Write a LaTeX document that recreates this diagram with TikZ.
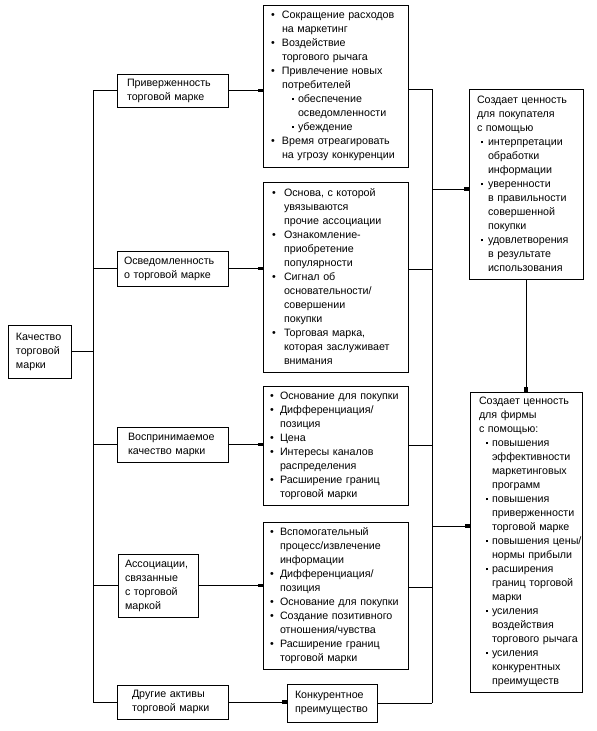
\documentclass[tikz,border=0pt]{standalone}
\usepackage{fontspec}
\setmainfont{Liberation Sans}
\usetikzlibrary{arrows.meta}
\newcommand\fs{\fontsize{10.7}{14}\selectfont}
\newcommand\BI[3]{\mbox{\makebox[#2pt][l]{\hspace*{#1pt}\textbullet}#3}}
\newcommand\SI[3]{\mbox{\makebox[#2pt][l]{\hspace*{#1pt}\raisebox{2.4pt}{\rule{2pt}{2pt}}}#3}}
\newcommand\CI[2]{\mbox{\hspace*{#1pt}#2}}
\begin{document}
\begin{tikzpicture}[x=1pt,y=-1pt,line width=1pt,
  box/.style={draw, line width=1pt, inner ysep=0pt, align=left, font=\fs},
  lbox/.style={box, inner xsep=0pt, text width=#1, minimum width=#1},
  arr/.style={-{Square[length=4.5pt,width=3.5pt]}}]
\useasboundingbox (0,0) rectangle (597,731);
% left column
\node[box, minimum width=63pt, minimum height=53pt, inner xsep=8pt, text width=47pt] (q) at (39.5,351.5)
  {\mbox{Качество}\\\mbox{торговой}\\\mbox{марки}};
\node[box, minimum width=111pt, minimum height=33pt, inner xsep=10pt, text width=91pt] (b1) at (172.5,90.5)
  {\mbox{Приверженность}\\\mbox{торговой марке}};
\node[box, minimum width=111pt, minimum height=35pt, inner xsep=7pt, text width=97pt] (b2) at (172.5,268.5)
  {\mbox{Осведомленность}\\\mbox{о торговой марке}};
\node[box, minimum width=111pt, minimum height=35pt, inner xsep=11pt, text width=89pt] (b3) at (172.5,444.5)
  {\mbox{Воспринимаемое}\\\mbox{качество марки}};
\node[box, minimum width=80pt, minimum height=63pt, inner xsep=7pt, text width=66pt] (b4) at (158,585.5)
  {\mbox{Ассоциации,}\\\mbox{связанные}\\\mbox{с торговой}\\\mbox{маркой}};
\node[box, minimum width=111pt, minimum height=34pt, inner xsep=15pt, text width=81pt] (b5) at (172.5,702)
  {\mbox{Другие активы}\\\mbox{торговой марки}};
\node[box, minimum width=90pt, minimum height=38pt, inner xsep=8pt, text width=74pt] (k) at (332,703)
  {\mbox{Конкурентное}\\\mbox{преимущество}};
% lists
\node[lbox=145pt, minimum height=162pt] (l1) at (335.5,86) {%
\BI{8.1}{19}{Сокращение расходов}\\
\CI{19}{на маркетинг}\\
\BI{8.1}{19}{Воздействие}\\
\CI{19}{торгового рычага}\\
\BI{8.1}{19}{Привлечение новых}\\
\CI{19}{потребителей}\\
\SI{29}{35}{обеспечение}\\
\CI{35}{осведомленности}\\
\SI{29}{35}{убеждение}\\
\BI{8.1}{19}{Время отреагировать}\\
\CI{19}{на угрозу конкуренции}};
\node[lbox=145pt, minimum height=190pt] (l2) at (335.5,277) {%
\BI{9.1}{21}{Основа, с которой}\\
\CI{21}{увязываются}\\
\CI{21}{прочие ассоциации}\\
\BI{9.1}{21}{Ознакомление-}\\
\CI{21}{приобретение}\\
\CI{21}{популярности}\\
\BI{9.1}{21}{Сигнал об}\\
\CI{21}{основательности/}\\
\CI{21}{совершении}\\
\CI{21}{покупки}\\
\BI{9.1}{21}{Торговая марка,}\\
\CI{21}{которая заслуживает}\\
\CI{21}{внимания}};
\node[lbox=145pt, minimum height=119pt] (l3) at (335.5,445.5) {%
\BI{7.1}{17}{Основание для покупки}\\
\BI{7.1}{17}{Дифференциация/}\\
\CI{17}{позиция}\\
\BI{7.1}{17}{Цена}\\
\BI{7.1}{17}{Интересы каналов}\\
\CI{17}{распределения}\\
\BI{7.1}{17}{Расширение границ}\\
\CI{17}{торговой марки}};
\node[lbox=145pt, minimum height=147pt] (l4) at (335.5,595.5) {%
\BI{7.1}{17}{Вспомогательный}\\
\CI{17}{процесс/извлечение}\\
\CI{17}{информации}\\
\BI{7.1}{17}{Дифференциация/}\\
\CI{17}{позиция}\\
\BI{7.1}{17}{Основание для покупки}\\
\BI{7.1}{17}{Создание позитивного}\\
\CI{17}{отношения/чувства}\\
\BI{7.1}{17}{Расширение границ}\\
\CI{17}{торговой марки}};
% right column
\node[lbox=114pt, minimum height=190pt] (buy) at (526,184) {%
\CI{8}{Создает ценность}\\
\CI{8}{для покупателя}\\
\CI{8}{с помощью}\\
\SI{12}{19}{интерпретации}\\
\CI{19}{обработки}\\
\CI{19}{информации}\\
\SI{12}{19}{уверенности}\\
\CI{19}{в правильности}\\
\CI{19}{совершенной}\\
\CI{19}{покупки}\\
\SI{12}{19}{удовлетворения}\\
\CI{19}{в результате}\\
\CI{19}{использования}};
\node[lbox=112pt, minimum height=300pt] (firm) at (526,542) {%
\CI{9}{Создает ценность}\\
\CI{9}{для фирмы}\\
\CI{9}{с помощью:}\\
\SI{16}{22}{повышения}\\
\CI{22}{эффективности}\\
\CI{22}{маркетинговых}\\
\CI{22}{программ}\\
\SI{16}{22}{повышения}\\
\CI{22}{приверженности}\\
\CI{22}{торговой марке}\\
\SI{16}{22}{повышения цены/}\\
\CI{22}{нормы прибыли}\\
\SI{16}{22}{расширения}\\
\CI{22}{границ торговой}\\
\CI{22}{марки}\\
\SI{16}{22}{усиления}\\
\CI{22}{воздействия}\\
\CI{22}{торгового рычага}\\
\SI{16}{22}{усиления}\\
\CI{22}{конкурентных}\\
\CI{22}{преимуществ}};
% left trunk
\coordinate (LX) at (93,0);
\draw (b1.west -| LX) -- (b5.west -| LX);
\draw (q.east) -- (q.east -| LX);
\foreach \b in {b1,b2,b3,b4,b5} \draw (\b.west -| LX) -- (\b.west);
% arrows to lists
\draw[arr] (b1.east) -- (b1.east -| l1.west);
\draw[arr] (b2.east) -- (b2.east -| l2.west);
\draw[arr] (b3.east) -- (b3.east -| l3.west);
\draw[arr] (b4.east) -- (b4.east -| l4.west);
\draw[arr] (b5.east) -- (b5.east -| k.west);
% right trunk
\coordinate (RX) at (432,0);
\coordinate (o1) at ([yshift=-3pt]l1.east);
\coordinate (o2) at ([yshift=8pt]l2.east);
\coordinate (o4) at ([yshift=8.5pt]l4.east);
\draw (o1 -| RX) -- (k.east -| RX);
\draw (o1) -- (o1 -| RX);
\draw (o2) -- (o2 -| RX);
\draw (l3.east) -- (l3.east -| RX);
\draw (o4) -- (o4 -| RX);
\draw (k.east) -- (k.east -| RX);
\coordinate (RB) at (432,189);
\coordinate (RF) at (432,526);
\draw[arr] (RB) -- (RB -| buy.west);
\draw[arr] (RF) -- (RF -| firm.west);
\draw[arr] (buy.south) -- (firm.north);
\end{tikzpicture}
\end{document}
